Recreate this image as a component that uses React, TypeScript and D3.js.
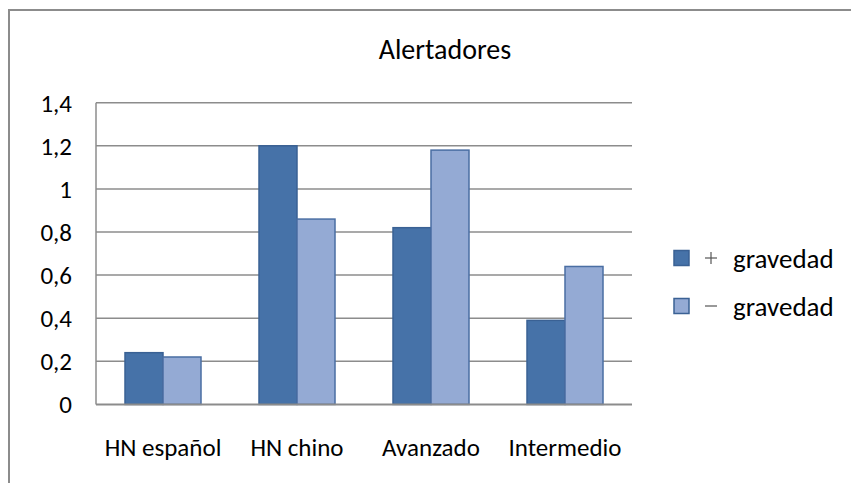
import React from "react";
import * as d3 from "d3";

const categories = ["HN español", "HN chino", "Avanzado", "Intermedio"];
const seriesNames = ["+ gravedad", "− gravedad"];
const masGravedad = [0.24, 1.2, 0.82, 0.39];
const menosGravedad = [0.22, 0.86, 1.18, 0.64];
const yTicks = [0, 0.2, 0.4, 0.6, 0.8, 1, 1.2, 1.4];

const W = 851;
const H = 483;
const plot = { left: 96, right: 632, top: 102.7, bottom: 404.4 };
const fills = ["#4672A8", "#94AAD4"];
const strokes = ["#3A6194", "#4A6EA3"];
const FONT = "Carlito, Lato, 'Open Sans', sans-serif";
const FS = 25;

const fmt = (v: number) => String(Math.round(v * 10) / 10).replace(".", ",");

export default function App() {
  const x = d3.scaleBand<string>().domain(categories).range([plot.left, plot.right]);
  const y = d3.scaleLinear().domain([0, 1.4]).range([plot.bottom, plot.top]);
  const barW = 38;
  const series = [masGravedad, menosGravedad];

  return (
    <svg width={W} height={H} style={{ position: "absolute", left: 0, top: 0, background: "#fff" }}>
      <rect x={9} y={10} width={W + 20} height={H + 20} fill="#fff" stroke="#8c8c8c" strokeWidth={2} />
      <text x={445} y={59} textAnchor="middle" fontFamily={FONT} fontSize={28} fill="#000">
        Alertadores
      </text>
      {yTicks.map((t) => (
        <g key={t}>
          {t > 0 && (
            <line x1={plot.left} x2={plot.right} y1={y(t)} y2={y(t)} stroke="#8c8c8c" strokeWidth={1.5} />
          )}
          <text x={72} y={y(t)} dy="0.36em" textAnchor="end" fontFamily={FONT} fontSize={FS} fill="#000">
            {fmt(t)}
          </text>
        </g>
      ))}
      <line x1={plot.left} x2={plot.left} y1={plot.top} y2={plot.bottom} stroke="#8c8c8c" strokeWidth={1.5} />
      {categories.map((c, i) => {
        const cx = (x(c) as number) + x.bandwidth() / 2;
        return (
          <g key={c}>
            {series.map((s, k) => (
              <rect
                key={k}
                x={cx - barW + k * barW}
                y={y(s[i])}
                width={barW}
                height={y(0) - y(s[i])}
                fill={fills[k]}
                stroke={strokes[k]}
                strokeWidth={1.5}
              />
            ))}
            <text x={cx} y={456} textAnchor="middle" fontFamily={FONT} fontSize={FS} fill="#000">
              {c}
            </text>
          </g>
        );
      })}
      <line x1={plot.left} x2={plot.right} y1={plot.bottom} y2={plot.bottom} stroke="#8c8c8c" strokeWidth={2} />
      {seriesNames.map((n, k) => {
        const ly = 258 + k * 48;
        return (
          <g key={n}>
            <rect x={674} y={ly - 7.5} width={15} height={15} fill={fills[k]} stroke={strokes[0]} strokeWidth={1.5} />
            <line x1={705} x2={717} y1={ly} y2={ly} stroke="#555" strokeWidth={1.2} />
            {k === 0 && <line x1={711} x2={711} y1={ly - 6} y2={ly + 6} stroke="#555" strokeWidth={1.2} />}
            <text x={733} y={ly} dy="0.36em" fontFamily={FONT} fontSize={27} fill="#000">
              gravedad
            </text>
          </g>
        );
      })}
    </svg>
  );
}
